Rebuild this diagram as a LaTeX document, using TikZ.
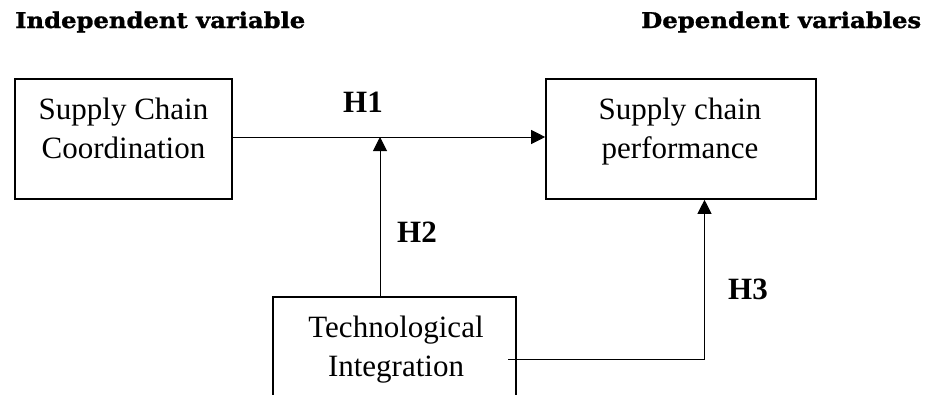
\documentclass[tikz,border=0pt]{standalone}
\usepackage{fontspec}
\setmainfont{Liberation Serif}
\newfontfamily\headfont[BoldFeatures={FakeBold=1.2}]{DejaVu Serif}
\usetikzlibrary{arrows.meta}
\tikzset{
  box/.style={draw, line width=1.6pt, rectangle, inner sep=0pt},
  thinbox/.style={draw, line width=1.2pt, rectangle, inner sep=0pt},
  boxtext/.style={inner sep=0pt, align=center, anchor=north,
    font=\fontsize{31}{39}\selectfont},
  hyp/.style={inner sep=0pt, anchor=base west, font=\fontsize{31}{37}\selectfont\bfseries},
  head/.style={inner sep=0pt, anchor=base west},
  conn/.style={line width=1pt, -{Triangle[length=14pt,width=14pt]}},
  plain/.style={line width=1pt}
}
\begin{document}
\begin{tikzpicture}[x=1pt,y=-1pt]
\useasboundingbox (0,0) rectangle (926,394);
\clip (0,0) rectangle (926,394);
% headers
\node[head] (hind) at (15,28) {\resizebox{290pt}{16.5pt}{\headfont\bfseries Independent variable}};
\node[head] (hdep) at (641,28) {\resizebox{280pt}{16.5pt}{\headfont\bfseries Dependent variables}};
% boxes
\node[box, minimum width=217pt, minimum height=120pt] (scc) at (123.5,139) {};
\node[box, minimum width=270pt, minimum height=120pt] (scp) at (681,139) {};
\node[thinbox, minimum width=243pt, minimum height=124pt] (ti) at (394.5,359) {};
% box texts
\node[boxtext] (scct) at (123.5,97.5) {Supply Chain\\Coordination};
\node[boxtext] (scpt) at (680,97.5) {Supply chain\\performance};
\node[boxtext] (tit) at (396,315.5) {Technological\\Integration};
% connectors
\coordinate (j) at (380,137);
\coordinate (tistart) at (508,359);
\coordinate (corner) at (704.5,359);
\draw[conn] (scc.east |- j) -- (scp.west |- j);
\draw[conn] (ti.north -| j) -- (j);
\draw[conn] (tistart) -- (corner) -- (corner |- scp.south);
% labels
\node[hyp] (h1) at (343,112) {H1};
\node[hyp] (h2) at (397,242) {H2};
\node[hyp] (h3) at (728,299) {H3};
\end{tikzpicture}
\end{document}
